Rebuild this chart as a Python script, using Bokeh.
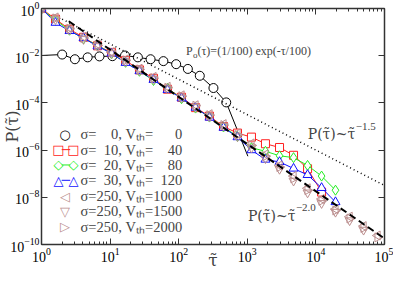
import math
from bokeh.plotting import figure
from bokeh.models import (LogAxis, LogTicker, FixedTicker, Label, Arrow,
                          CustomJSTickFormatter)
from bokeh.embed import file_html
from bokeh.resources import INLINE

# ---------------- data ----------------
bin_tau = [1, 1.6, 2.56, 4.1, 6.55, 10.5, 16.8, 26.8, 42.9, 68.7, 110, 176, 281,
           450, 720, 1150, 1840, 2950, 4720, 7560, 12100, 19300, 31000, 49500, 79200]

circ_tau = [1, 2.0, 3.07, 4.71, 7.0, 10.8, 16.5, 25.4, 38.9, 59.8, 91.8, 136, 203,
            321, 493, 1020]
circ_p = [0.0102, 0.0112, 0.00708, 0.00851, 0.00933, 0.00955, 0.0102, 0.00851,
          0.00708, 0.00589, 0.00437, 0.00275, 0.00141, 4.27e-4, 1.05e-4, 5.5e-7]

red_p = [1, 0.355, 0.132, 0.0603, 0.0263, 0.0138, 0.00631, 0.00251, 0.0011, 3.8e-4,
         1.74e-4, 6.31e-5, 2.75e-5, 1.0e-5, 5.25e-6, 3.55e-6, 1.86e-6, 1.29e-6,
         6.03e-7, 1.62e-7, 1.66e-8]
green_p = [0.955, 0.316, 0.12, 0.0525, 0.0282, 0.012, 0.00525, 0.00219, 8.91e-4,
           4.17e-4, 1.51e-4, 6.03e-5, 2.51e-5, 9.55e-6, 3.8e-6, 1.26e-6, 8.91e-7,
           5.75e-7, 4.79e-7, 2.24e-7, 7.94e-8, 2.0e-8]
blue_p = [1, 0.251, 0.112, 0.0562, 0.0251, 0.0126, 0.00501, 0.00224, 9.55e-4,
          3.55e-4, 1.58e-4, 6.31e-5, 2.4e-5, 8.91e-6, 3.55e-6, 1.0e-6, 3.98e-7,
          3.16e-7, 1.66e-7, 8.91e-8, 2.51e-8, 6.31e-9]
v1000_p = [1, 0.417, 0.151, 0.0631, 0.0302, 0.0141, 0.00692, 0.00282, 0.00126,
           4.79e-4, 2.09e-4, 7.94e-5, 3.31e-5, 1.26e-5, 5.01e-6, 1.91e-6, 6.61e-7,
           2.24e-7, 7.94e-8, 2.4e-8, 8.51e-9, 3.16e-9, 1.51e-9, 6.03e-10, 2.4e-10]
v1500_p = [0.955, 0.347, 0.126, 0.0501, 0.0251, 0.0126, 0.00562, 0.0024, 0.001,
           3.98e-4, 1.66e-4, 6.61e-5, 2.63e-5, 1.05e-5, 3.8e-6, 1.26e-6, 4.47e-7,
           1.58e-7, 5.01e-8, 1.58e-8, 5.62e-9, 2.4e-9, 1.05e-9, 4.17e-10]
v2000_p = [1, 0.38, 0.138, 0.0562, 0.0275, 0.0138, 0.00631, 0.00263, 0.00112,
           4.37e-4, 1.91e-4, 7.59e-5, 3.02e-5, 1.15e-5, 4.37e-6, 1.58e-6, 5.5e-7,
           1.91e-7, 6.31e-8, 2.0e-8, 7.08e-9, 2.75e-9, 1.26e-9, 5.01e-10, 2.0e-10]

fit15_tau = [2, 1e5]
fit15_p = [0.354, 3.16e-8]
fit20_tau = [2.5, 1e5]
fit20_p = [0.288, 1.8e-10]

sigma_labels = ["0", "10", "20", "30", "250", "250", "250"]
vth_labels = ["0", "40", "80", "120", "1000", "1500", "2000"]

y_ticks_major = [1e-10, 1e-8, 1e-6, 1e-4, 1e-2, 1]

# ---------------- figure ----------------
SERIF = "Liberation Serif"
SERIF_MARK = "DejaVu Serif"   # renders the combining tilde over tau
AX = "#333333"
TT = "\u03c4\u0303"

p = figure(width=393, height=273, x_axis_type="log", y_axis_type="log",
           x_range=(1, 1e5), y_range=(1e-10, 1),
           output_backend="svg", toolbar_location=None,
           min_border_left=40, min_border_right=9, min_border_top=8,
           min_border_bottom=29)
p.grid.visible = False
p.outline_line_color = None
p.background_fill_color = "white"

def style_axis(ax, labels=True):
    ax.axis_line_color = AX
    ax.axis_line_width = 1.5
    ax.major_tick_line_color = AX
    ax.minor_tick_line_color = AX
    ax.major_tick_in = 6
    ax.major_tick_out = 0
    ax.minor_tick_in = 3
    ax.minor_tick_out = 0
    ax.major_label_text_font = SERIF
    ax.major_label_text_color = "black"
    if labels:
        ax.major_label_text_font_size = "14px"
        ax.major_label_standoff = 3
    else:
        ax.formatter = CustomJSTickFormatter(code="return ''")
        ax.major_label_text_font_size = "0px"
        ax.major_label_standoff = 0

xb = p.xaxis[0]
xb.ticker = LogTicker(num_minor_ticks=10)
style_axis(xb)
xb.axis_label = TT
xb.axis_label_text_font = SERIF_MARK
xb.axis_label_text_font_size = "17px"
xb.axis_label_text_font_style = "normal"
xb.axis_label_standoff = -15

yl = p.yaxis[0]
yl.ticker = FixedTicker(ticks=y_ticks_major, minor_ticks=[])
style_axis(yl)
yl.major_label_standoff = 2
yl.axis_label = f"P({TT})"
yl.axis_label_text_font = SERIF_MARK
yl.axis_label_text_font_size = "16px"
yl.axis_label_text_font_style = "normal"
yl.axis_label_standoff = -15

xt = LogAxis(ticker=LogTicker(num_minor_ticks=10))
style_axis(xt, labels=False)
p.add_layout(xt, "above")
yr = LogAxis(ticker=FixedTicker(ticks=y_ticks_major, minor_ticks=[]))
style_axis(yr, labels=False)
p.add_layout(yr, "right")

# ---------------- data renderers ----------------
RED, GREEN, BLUE, ROSY = "#ff2020", "#22ee22", "#1010ff", "#bc8f8f"

p.line(circ_tau, circ_p, line_color="black", line_width=1)
p.scatter(circ_tau[1:-1], circ_p[1:-1], marker="circle", size=9,
          line_color="black", fill_color="white", line_width=1)

p.line(bin_tau[:len(red_p)], red_p, line_color=RED, line_width=1)
p.scatter(bin_tau[:len(red_p)], red_p, marker="square", size=8,
          line_color=RED, fill_color="white")
p.line(bin_tau[:len(green_p)], green_p, line_color=GREEN, line_width=1)
p.scatter(bin_tau[:len(green_p)], green_p, marker="diamond", size=10,
          line_color=GREEN, fill_color="white")
p.line(bin_tau[:len(blue_p)], blue_p, line_color=BLUE, line_width=1)
p.scatter(bin_tau[:len(blue_p)], blue_p, marker="triangle", size=9,
          line_color=BLUE, fill_color="white")

p.scatter(bin_tau[:len(v1000_p)], v1000_p, marker="triangle", angle=math.pi / 2,
          size=9, line_color=ROSY, fill_color=None)
p.scatter(bin_tau[:len(v1500_p)], v1500_p, marker="inverted_triangle",
          size=9, line_color=ROSY, fill_color=None)
p.scatter(bin_tau[:len(v2000_p)], v2000_p, marker="triangle", angle=-math.pi / 2,
          size=9, line_color=ROSY, fill_color=None)

p.line(fit15_tau, fit15_p, line_color="black", line_width=1.5, line_dash="1 3")
p.line(fit20_tau, fit20_p, line_color="black", line_width=2, line_dash="7 4")

# ---------------- legend (drawn as annotations, xmgrace style) ----------------
FS = "\u2007"
def lab(i):
    s = sigma_labels[i].rjust(3, FS)
    v = vth_labels[i].rjust(4, FS)
    return f"\u03c3={s}, V\u209c\u2095={v}"

row_logp = [-5.33, -5.98, -6.63, -7.28, -7.95, -8.6, -9.25]
symbols = ["\u25cb", "\u25a1", "\u25c7", "\u25b3", "\u25c1", "\u25bd", "\u25b7"]
sym_colors = ["black", RED, GREEN, BLUE, ROSY, ROSY, ROSY]
paired = [False, True, True, True, False, False, False]

for i in range(7):
    yy = 10 ** row_logp[i]
    xs = [17, 32] if paired[i] else [23.5]
    if paired[i]:
        p.add_layout(Arrow(x_start=1.97, y_start=yy, x_end=2.62, y_end=yy,
                           end=None, line_color=sym_colors[i], line_width=1))
    for xx in xs:
        p.add_layout(Label(x=xx, x_units="screen", y=yy, text=symbols[i],
                           text_font="DejaVu Sans", text_font_size="13px",
                           text_color=sym_colors[i], text_align="center",
                           text_baseline="middle"))
    p.add_layout(Label(x=39, x_units="screen", y=yy, text=lab(i),
                       text_font=SERIF, text_font_size="14.5px",
                       text_baseline="middle"))

# ---------------- annotations ----------------
po_tau, po_p = 128, 10 ** -1.79
p.add_layout(Label(x=po_tau, y=po_p, text="P", text_font=SERIF,
                   text_font_size="12px", text_baseline="middle"))
p.add_layout(Label(x=po_tau, y=po_p, x_offset=7, y_offset=-4, text="o",
                   text_font=SERIF, text_font_size="9px", text_baseline="middle"))
p.add_layout(Label(x=po_tau, y=po_p, x_offset=11.5,
                   text="(\u03c4)=(1/100) exp(-\u03c4/100)", text_font=SERIF,
                   text_font_size="12px", text_baseline="middle"))

for (tx, ty, expo) in [(7600, 10 ** -5.33, "\u22121.5"), (1020, 10 ** -8.78, "\u22122.0")]:
    p.add_layout(Label(x=tx, y=ty, text=f"P({TT})~{TT}", text_font=SERIF_MARK,
                       text_font_size="14px", text_baseline="middle"))
    p.add_layout(Label(x=tx, y=ty, x_offset=48, y_offset=8, text=expo,
                       text_font=SERIF, text_font_size="11px",
                       text_baseline="middle"))

open("out.html", "w").write(file_html(p, INLINE))
